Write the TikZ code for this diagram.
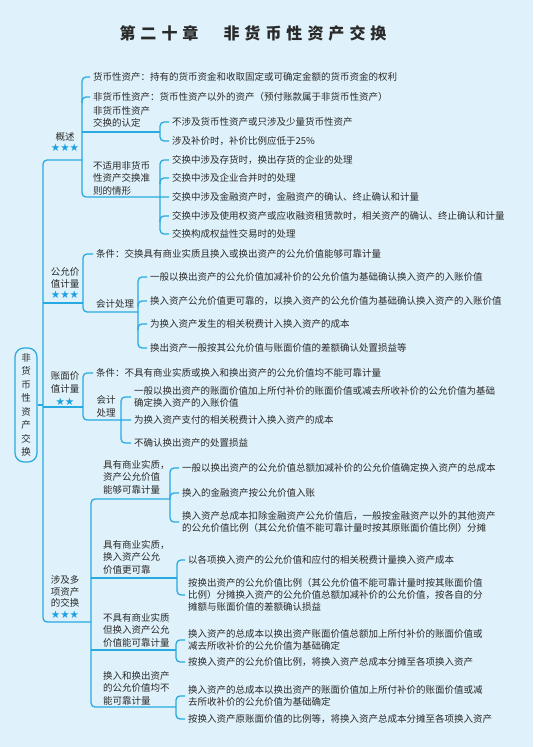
\documentclass[tikz,border=0pt]{standalone}
\usepackage{fontspec}
\setmainfont{Noto Sans CJK SC}
\newfontfamily\starfont{DejaVu Sans}
\definecolor{bgblue}{HTML}{DFF1FA}
\definecolor{lineblue}{HTML}{27A9E1}
\definecolor{starblue}{HTML}{1AA0E0}
\definecolor{textdark}{HTML}{2A2A2A}
\newcommand{\stars}[1]{{\starfont\fontsize{10.5}{11}\selectfont\color{starblue}#1}}
\begin{document}
\begin{tikzpicture}[x=1pt,y=-1pt,
  conn/.style={draw=lineblue,line width=1.25pt,rounded corners=4pt},
  txt/.style={anchor=west,inner sep=0pt,align=left,text=textdark,font=\fontsize{9.5}{12.5}\selectfont},
  lone/.style={align=center,inner sep=0pt,text=textdark,font=\fontsize{9.5}{11.5}\selectfont}]
\fill[bgblue] (0,0) rectangle (533,747);
\useasboundingbox (0,0) rectangle (533,747);

\node[font=\fontsize{16}{18}\selectfont\bfseries,text=textdark,inner sep=0pt] (title) at (253,33)
 {第\hspace{5pt}二\hspace{5pt}十\hspace{5pt}章\hspace{25pt}非\hspace{5pt}货\hspace{5pt}币\hspace{5pt}性\hspace{5pt}资\hspace{5pt}产\hspace{5pt}交\hspace{5pt}换};

% root
\node[draw=lineblue,line width=1.25pt,rounded corners=9pt,minimum width=22pt,minimum height=114pt,inner sep=0pt,align=center,text=textdark,font=\fontsize{9.5}{13.5}\selectfont] (root) at (26,405) {非\\货\\币\\性\\资\\产\\交\\换};
\draw[conn] (root.east) -- (43,405);

% ===== section 1
\node[lone] (gs) at (65,142) {概述\\\stars{★★★}};
\node[txt] (a1) at (93,77) {货币性资产：持有的货币资金和收取固定或可确定金额的货币资金的权利};
\node[txt] (a2) at (93,97) {非货币性资产：货币性资产以外的资产（预付账款属于非货币性资产）};
\node[txt] (a3) at (93,117) {非货币性资产\\交换的认定};
\node[txt] (a4) at (93,178) {不适用非货币\\性资产交换准\\则的情形};
\node[txt] (a31) at (172,122) {不涉及货币性资产或只涉及少量货币性资产};
\node[txt] (a32) at (172,141) {涉及补价时，补价比例应低于25\%};
\node[txt] (a41) at (172,160) {交换中涉及存货时，换出存货的企业的处理};
\node[txt] (a42) at (172,178) {交换中涉及企业合并时的处理};
\node[txt] (a43) at (172,197) {交换中涉及金融资产时，金融资产的确认、终止确认和计量};
\node[txt] (a44) at (172,216) {交换中涉及使用权资产或应收融资租赁款时，相关资产的确认、终止确认和计量};
\node[txt] (a45) at (172,234) {交换构成权益性交易时的处理};

\draw[conn] (82,160) -| (43,622) -- (91,622);
\draw[conn] ([xshift=-3pt]a1.west) -| (82,197) -- (160,197) -- ([xshift=-3pt]a43.west);
\draw[conn] (82,103) |- ([xshift=-3pt]a2.west);
\draw[conn] (82,132) -- (160,132);
\draw[conn] ([xshift=-3pt]a31.west) -| (160,141) -- ([xshift=-3pt]a32.west);
\draw[conn] ([xshift=-3pt]a41.west) -| (160,234) -- ([xshift=-3pt]a45.west);
\draw[conn] (160,184) |- ([xshift=-3pt]a42.west);
\draw[conn] (160,222) |- ([xshift=-3pt]a44.west);

% ===== section 2
\node[lone] (gy) at (65,283) {公允价\\值计量\\\stars{★★★}};
\node[txt] (b1) at (96,254) {条件：交换具有商业实质且换入或换出资产的公允价值能够可靠计量};
\node[txt] (b2) at (96,304) {会计处理};
\node[txt] (b21) at (150,277) {一般以换出资产的公允价值加减补价的公允价值为基础确认换入资产的入账价值};
\node[txt] (b22) at (150,301) {换入资产公允价值更可靠的，以换入资产的公允价值为基础确认换入资产的入账价值};
\node[txt] (b23) at (150,324) {为换入资产发生的相关税费计入换入资产的成本};
\node[txt] (b24) at (150,348) {换出资产一般按其公允价值与账面价值的差额确认处置损益等};
\draw[conn] (43,303) -- (83,303);
\draw[conn] ([xshift=-3pt]b1.west) -| (83,312) -- (138,312);
\draw[conn] ([xshift=-3pt]b21.west) -| (138,348) -- ([xshift=-3pt]b24.west);
\draw[conn] (138,307) |- ([xshift=-3pt]b22.west);
\draw[conn] (138,330) |- ([xshift=-3pt]b23.west);

% ===== section 3
\node[lone,font=\fontsize{9.5}{13}\selectfont] (zm) at (65,389) {账面价\\值计量\\\stars{★★}};
\node[txt] (c1) at (96,373) {条件：不具有商业实质或换入和换出资产的公允价值均不能可靠计量};
\node[lone,font=\fontsize{9.5}{13}\selectfont] (c2) at (106,406) {会计\\处理};
\node[txt,font=\fontsize{9.5}{11.5}\selectfont] (c21) at (134,397) {一般以换出资产的账面价值加上所付补价的账面价值或减去所收补价的公允价值为基础\\确定换入资产的入账价值};
\node[txt] (c22) at (134,420) {为换入资产支付的相关税费计入换入资产的成本};
\node[txt] (c23) at (134,443) {不确认换出资产的处置损益};
\draw[conn] (43,407) -- (83,407);
\draw[conn] ([xshift=-3pt]c1.west) -| (83,420) -- (121,420) -- ([xshift=-3pt]c22.west);
\draw[conn] ([xshift=-3pt]c21.west) -| (121,443) -- ([xshift=-3pt]c23.west);

% ===== section 4
\node[lone] (dx) at (65,597) {涉及多\\项资产\\的交换\\\stars{★★★}};
\node[txt] (d1) at (103,477) {具有商业实质，\\资产公允价值\\能够可靠计量};
\node[txt] (d2) at (103,557) {具有商业实质，\\换入资产公允\\价值更可靠};
\node[txt] (d3) at (103,630) {不具有商业实质\\但换入资产公允\\价值能可靠计量};
\node[txt] (d4) at (103,688) {换入和换出资产\\的公允价值均不\\能可靠计量};
\draw[conn] (170,499) -| (91,707) -- (176,707);
\draw[conn] (91,578) -- (177,578);
\draw[conn] (91,650) -- (176,650);

\node[txt] (d11) at (182,468) {一般以换出资产的公允价值总额加减补价的公允价值确定换入资产的总成本};
\node[txt] (d12) at (182,493) {换入的金融资产按公允价值入账};
\node[txt,font=\fontsize{9.5}{11.5}\selectfont] (d13) at (182,522) {换入资产总成本扣除金融资产公允价值后，一般按金融资产以外的其他资产\\的公允价值比例（其公允价值不能可靠计量时按其原账面价值比例）分摊};
\draw[conn] ([xshift=-3pt]d11.west) -| (170,522) -- ([xshift=-3pt]d13.west);
\draw[conn] (170,499) |- ([xshift=-3pt]d12.west);

\node[txt] (d21) at (188,560) {以各项换入资产的公允价值和应付的相关税费计量换入资产成本};
\node[txt,font=\fontsize{9.5}{12}\selectfont] (d22) at (188,595) {按换出资产的公允价值比例（其公允价值不能可靠计量时按其账面价值\\比例）分摊换入资产的公允价值总额加减补价的公允价值，按各自的分\\摊额与账面价值的差额确认损益};
\draw[conn] ([xshift=-3pt]d21.west) -| (177,595) -- ([xshift=-3pt]d22.west);

\node[txt] (d31) at (188,640) {换入资产的总成本以换出资产账面价值总额加上所付补价的账面价值或\\减去所收补价的公允价值为基础确定};
\node[txt] (d32) at (188,662) {按换入资产的公允价值比例，将换入资产总成本分摊至各项换入资产};
\draw[conn] ([xshift=-3pt]d31.west) -| (176,662) -- ([xshift=-3pt]d32.west);

\node[txt] (d41) at (188,696) {换入资产的总成本以换出资产的账面价值加上所付补价的账面价值或减\\去所收补价的公允价值为基础确定};
\node[txt] (d42) at (188,719) {按换入资产原账面价值的比例等，将换入资产总成本分摊至各项换入资产};
\draw[conn] ([xshift=-3pt]d41.west) -| (176,719) -- ([xshift=-3pt]d42.west);
\end{tikzpicture}
\end{document}
